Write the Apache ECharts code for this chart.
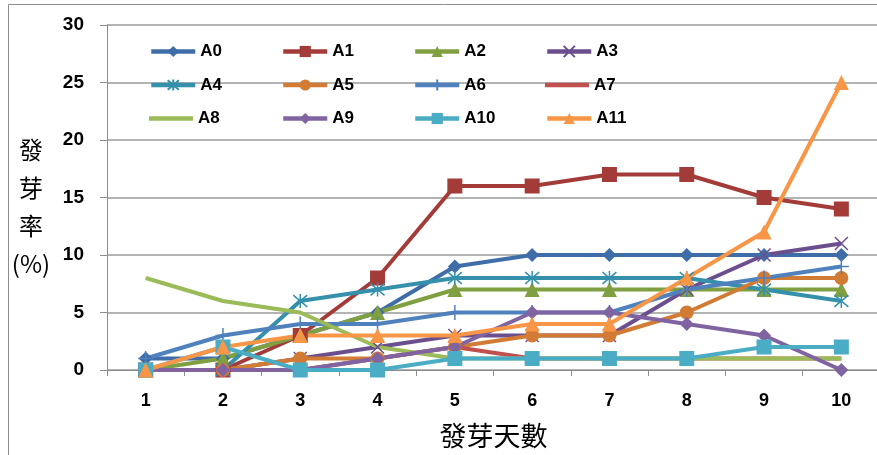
<!DOCTYPE html>
<html>
<head>
<meta charset="utf-8">
<script src="https://cdn.jsdelivr.net/npm/echarts@6/dist/echarts.min.js"></script>
<style>
    html, body { margin: 0; padding: 0; background: #fff; }
    #chart { width: 877px; height: 455px; }
</style>
</head>
<body>
<div id="chart"></div>
<script>
// 發芽天數
var days = ['1', '2', '3', '4', '5', '6', '7', '8', '9', '10'];

// 各組發芽率 (%)
var a0  = [1, 1, 3, 5, 9, 10, 10, 10, 10, 10];
var a1  = [0, 0, 3, 8, 16, 16, 17, 17, 15, 14];
var a2  = [0, 1, 3, 5, 7, 7, 7, 7, 7, 7];
var a3  = [0, 0, 1, 2, 3, 3, 3, 7, 10, 11];
var a4  = [0, 0, 6, 7, 8, 8, 8, 8, 7, 6];
var a5  = [0, 0, 1, 1, 2, 3, 3, 5, 8, 8];
var a6  = [1, 3, 4, 4, 5, 5, 5, 7, 8, 9];
var a7  = [0, 0, 0, 1, 2, 1, 1, 1, 1, 1];
var a8  = [8, 6, 5, 2, 1, 1, 1, 1, 1, 1];
var a9  = [0, 0, 0, 1, 2, 5, 5, 4, 3, 0];
var a10 = [0, 2, 0, 0, 1, 1, 1, 1, 2, 2];
var a11 = [0, 2, 3, 3, 3, 4, 4, 8, 12, 25];

var yTicks = [0, 5, 10, 15, 20, 25, 30];

var FONT = '"Liberation Sans", Arial, sans-serif';
var CJK = '"Noto Sans CJK TC", "Noto Sans CJK SC", sans-serif';

// 線條型標記 (X, 星號, 十字)
var SYM_X = 'path://M0,0L10,10M10,0L0,10';
var SYM_STAR = 'path://M0,0L10,10M10,0L0,10M5,-1L5,11';
var SYM_PLUS = 'path://M5,0L5,10M0,5L10,5';   // 寬度不可為 0, 否則圖例版面壞掉
// 無標記系列的圖例線
var ICON_LINE = 'path://M0,0L44,0L44,4.5L0,4.5Z';

var colors = {
    A0: '#3F6DA8', A1: '#A33C39', A2: '#7F9F41', A3: '#6B4E8E',
    A4: '#3490AB', A5: '#D27B35', A6: '#4F81BD', A7: '#C0504D',
    A8: '#9BBB59', A9: '#8064A2', A10: '#4BACC6', A11: '#F79646'
};

function makeSeries(name, data, symbol, size, stroked) {
    var color = colors[name];
    return {
        name: name,
        type: 'line',
        data: data,
        symbol: symbol,
        symbolSize: size,
        showSymbol: symbol !== 'none',
        lineStyle: { color: color, width: 4 },
        itemStyle: stroked ?
            { color: 'rgba(0,0,0,0)', borderColor: color, borderWidth: 1.5 } :
            { color: color, borderWidth: 0 },
        emphasis: { disabled: true },
        animation: false
    };
}

var series = [
    makeSeries('A0', a0, 'diamond', 14),
    makeSeries('A1', a1, 'rect', 15),
    makeSeries('A2', a2, 'triangle', 15),
    makeSeries('A3', a3, SYM_X, 13, true),
    makeSeries('A4', a4, SYM_STAR, 14, true),
    makeSeries('A5', a5, 'circle', 14),
    makeSeries('A6', a6, SYM_PLUS, 15, true),
    makeSeries('A7', a7, 'none', 0),
    makeSeries('A8', a8, 'none', 0),
    makeSeries('A9', a9, 'diamond', 14),
    makeSeries('A10', a10, 'rect', 15),
    makeSeries('A11', a11, 'triangle', 15)
];

// 圖例 4 欄 x 3 列, 每項一個 legend (含 5px 內距)
var legendCols = [144, 276, 408, 540];
var legendRows = [38, 71.5, 105];
var legends = series.map(function (s, i) {
    var item = { name: s.name };
    if (s.symbol === 'none') {
        item.icon = ICON_LINE;
        item.itemStyle = { color: colors[s.name] };
    }
    return {
        id: 'lg' + i,
        orient: 'horizontal',
        left: legendCols[i % 4],
        top: legendRows[Math.floor(i / 4)],
        itemWidth: 44,
        itemHeight: 14,
        selectedMode: false,
        data: [item],
        lineStyle: { width: 4.5 },
        textStyle: { fontFamily: FONT, fontWeight: 'bold', fontSize: 17, color: '#000' }
    };
});

var chart = echarts.init(document.getElementById('chart'));

var option = {
    backgroundColor: '#fff',
    animation: false,
    graphic: [{
        type: 'rect',
        shape: { x: 8.5, y: 4.5, width: 900, height: 500 },
        style: { fill: 'none', stroke: '#8c8c8c', lineWidth: 1 },
        silent: true,
        z: -1
    }, {
        type: 'text',
        x: 31,
        y: 207,
        silent: true,
        style: {
            text: '發\n芽\n率\n(%)',
            font: '24px ' + CJK,
            lineHeight: 38,
            fill: '#000',
            align: 'center',
            verticalAlign: 'middle'
        }
    }],
    legend: legends,
    grid: {
        left: 107,
        top: 25,
        width: 773,
        height: 345,
        outerBoundsMode: 'none',
        containLabel: false
    },
    xAxis: {
        type: 'category',
        data: days,
        boundaryGap: true,
        name: '發芽天數',
        nameLocation: 'middle',
        nameGap: 52,
        nameTextStyle: { fontFamily: CJK, fontSize: 27, color: '#000' },
        axisLine: { lineStyle: { color: '#8c8c8c', width: 1 } },
        axisTick: { show: true, length: 6, lineStyle: { color: '#8c8c8c' } },
        axisLabel: {
            margin: 22,
            fontFamily: FONT,
            fontWeight: 'bold',
            fontSize: 18,
            color: '#000'
        },
        splitLine: { show: false }
    },
    yAxis: {
        type: 'value',
        min: yTicks[0],
        max: yTicks[yTicks.length - 1],
        interval: 5,
        axisLine: { show: true, lineStyle: { color: '#8c8c8c', width: 1 } },
        axisTick: { show: true, length: 7, lineStyle: { color: '#8c8c8c' } },
        axisLabel: {
            margin: 23,
            fontFamily: FONT,
            fontWeight: 'bold',
            fontSize: 19,
            color: '#000'
        },
        splitLine: { show: true, lineStyle: { color: '#9a9a9a', width: 1.5 } }
    },
    series: series
};

chart.setOption(option);
</script>
</body>
</html>
